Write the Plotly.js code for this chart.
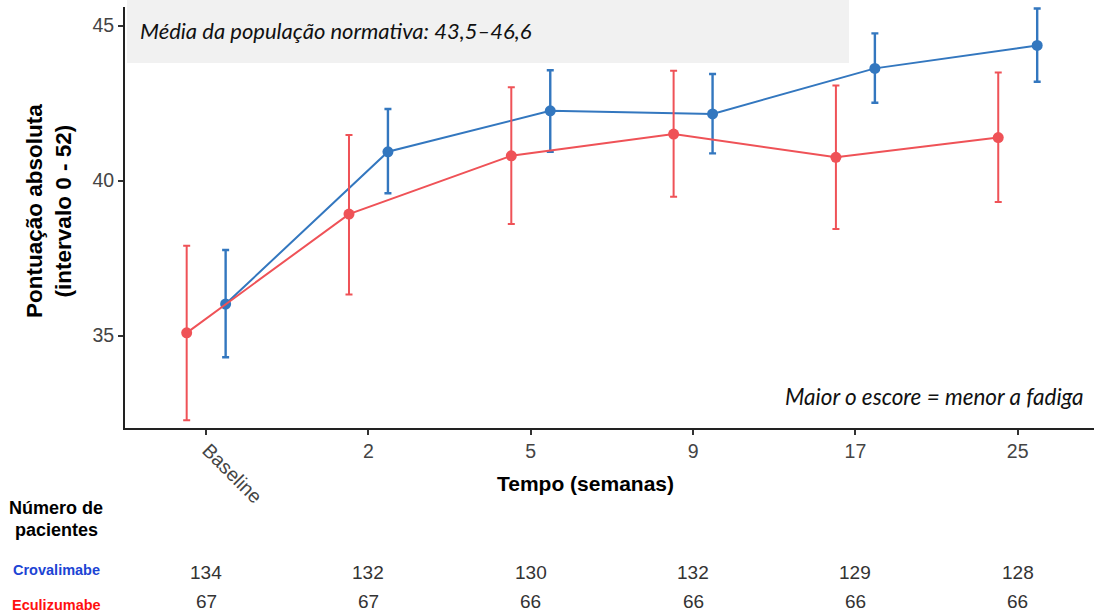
<!DOCTYPE html>
<html>
<head>
<meta charset="utf-8">
<script src="https://cdn.plot.ly/plotly-3.0.1.min.js"></script>
<style>
  html, body { margin: 0; padding: 0; background: #fff; }
  #chart { width: 1094px; height: 612px; }
</style>
</head>
<body>
<div id="chart"></div>
<script>
// ---- data ----
const timepoints = ["Baseline", "2", "5", "9", "17", "25"];
const crovMean  = [36.02, 40.93, 42.25, 42.15, 43.62, 44.36];
const crovUpper = [37.76, 42.31, 43.56, 43.44, 44.75, 45.55];
const crovLower = [34.30, 39.59, 40.93, 40.88, 42.51, 43.19];
const eculMean  = [35.09, 38.92, 40.80, 41.50, 40.75, 41.39];
const eculUpper = [37.90, 41.47, 43.01, 43.54, 43.07, 43.49];
const eculLower = [32.27, 36.33, 38.60, 39.48, 38.44, 39.31];
const crovN = [134, 132, 130, 132, 129, 128];
const eculN = [67, 67, 66, 66, 66, 66];

const blue = "#3377bf";
const red = "#ef5257";
const dodge = 0.12;

const idx = timepoints.map((_, i) => i);

function series(name, mean, up, lo, color, off, thick) {
  return {
    type: "scatter", mode: "lines+markers", name: name,
    x: idx.map(i => i + off), y: mean,
    line: { color: color, width: 2 },
    marker: { color: color, size: 11 },
    error_y: {
      type: "data", symmetric: false,
      array: up.map((u, i) => u - mean[i]),
      arrayminus: lo.map((l, i) => mean[i] - l),
      color: color, thickness: thick, width: 3.5
    },
    cliponaxis: false,
    hoverinfo: "x+y"
  };
}

const traces = [
  series("Crovalimabe", crovMean, crovUpper, crovLower, blue, dodge, 2.4),
  series("Eculizumabe", eculMean, eculUpper, eculLower, red, -dodge, 2)
];

const tickFont = { family: "Liberation Sans, Arial, sans-serif", size: 19.5, color: "#444" };
const numFont = { family: "Liberation Sans, Arial, sans-serif", size: 19, color: "#333" };
const yTop = 428, yBot = 7, H = yTop - yBot;
const py = px => (yTop - px) / H;
const px2x = px => (px - 125) / 969;

const annotations = [
  { xref: "paper", yref: "paper", x: px2x(138), y: py(31), xanchor: "left", yanchor: "middle",
    text: "<i>Média da população normativa: 43,5–46,6</i>", showarrow: false,
    font: { family: "Lato, sans-serif", size: 22, color: "#111" } },
  { xref: "paper", yref: "paper", x: px2x(1086), y: py(396), xanchor: "right", yanchor: "middle",
    text: "<i>Maior o escore = menor a fadiga</i>", showarrow: false,
    font: { family: "Lato, sans-serif", size: 22.5, color: "#111" } },
  { xref: "paper", yref: "paper", x: px2x(49), y: py(211), xanchor: "center", yanchor: "middle",
    textangle: -90, showarrow: false,
    text: "<b>Pontuação absoluta<br>(intervalo 0 - 52)</b>",
    font: { family: "Liberation Sans, Arial, sans-serif", size: 22.5, color: "#000" } },
  { xref: "paper", yref: "paper", x: px2x(585), y: py(483), xanchor: "center", yanchor: "middle",
    text: "<b>Tempo (semanas)</b>", showarrow: false,
    font: { family: "Liberation Sans, Arial, sans-serif", size: 21, color: "#000" } },
  { xref: "x", yref: "paper", x: 0, y: py(473), xanchor: "center", yanchor: "middle",
    xshift: 26, text: timepoints[0], textangle: 45, showarrow: false, font: tickFont },
  { xref: "paper", yref: "paper", x: px2x(56), y: py(508), xanchor: "center", yanchor: "middle",
    text: "<b>Número de</b>", showarrow: false,
    font: { family: "Liberation Sans, Arial, sans-serif", size: 18, color: "#000" } },
  { xref: "paper", yref: "paper", x: px2x(56), y: py(530), xanchor: "center", yanchor: "middle",
    text: "<b>pacientes</b>", showarrow: false,
    font: { family: "Liberation Sans, Arial, sans-serif", size: 18, color: "#000" } },
  { xref: "paper", yref: "paper", x: px2x(56), y: py(570), xanchor: "center", yanchor: "middle",
    text: "<b>Crovalimabe</b>", showarrow: false,
    font: { family: "Liberation Sans, Arial, sans-serif", size: 14.5, color: "#1c44d4" } },
  { xref: "paper", yref: "paper", x: px2x(56), y: py(605), xanchor: "center", yanchor: "middle",
    text: "<b>Eculizumabe</b>", showarrow: false,
    font: { family: "Liberation Sans, Arial, sans-serif", size: 14.5, color: "#ff1010" } }
];
crovN.forEach((n, i) => annotations.push({
  xref: "x", yref: "paper", x: i, y: py(572), xanchor: "center", yanchor: "middle",
  text: String(n), showarrow: false, font: numFont }));
eculN.forEach((n, i) => annotations.push({
  xref: "x", yref: "paper", x: i, y: py(601), xanchor: "center", yanchor: "middle",
  text: String(n), showarrow: false, font: numFont }));

const layout = {
  width: 1094, height: 612,
  margin: { l: 125, r: 0, t: 7, b: 184 },
  paper_bgcolor: "#fff", plot_bgcolor: "#fff",
  showlegend: false,
  font: tickFont,
  xaxis: {
    range: [-0.5, 5.47], tickmode: "array", tickvals: idx,
    ticktext: timepoints.map((t, i) => i === 0 ? "" : t),
    showgrid: false, zeroline: false, showline: true, linecolor: "#222", linewidth: 2,
    ticks: "outside", ticklen: 5, tickwidth: 2, tickcolor: "#333",
    tickfont: tickFont, fixedrange: true
  },
  yaxis: {
    range: [32.02, 45.6], tickvals: [35, 40, 45],
    showgrid: false, zeroline: false, showline: true, linecolor: "#222", linewidth: 2,
    ticks: "outside", ticklen: 5, tickwidth: 2, tickcolor: "#333",
    tickfont: tickFont, fixedrange: true
  },
  shapes: [
    { type: "rect", xref: "paper", yref: "paper", x0: 0.002, x1: px2x(849),
      y0: py(63), y1: py(0), fillcolor: "#f1f1f1", line: { width: 0 }, layer: "below" }
  ],
  annotations: annotations
};

Plotly.newPlot("chart", traces, layout, { displayModeBar: false, staticPlot: true });
</script>
</body>
</html>
